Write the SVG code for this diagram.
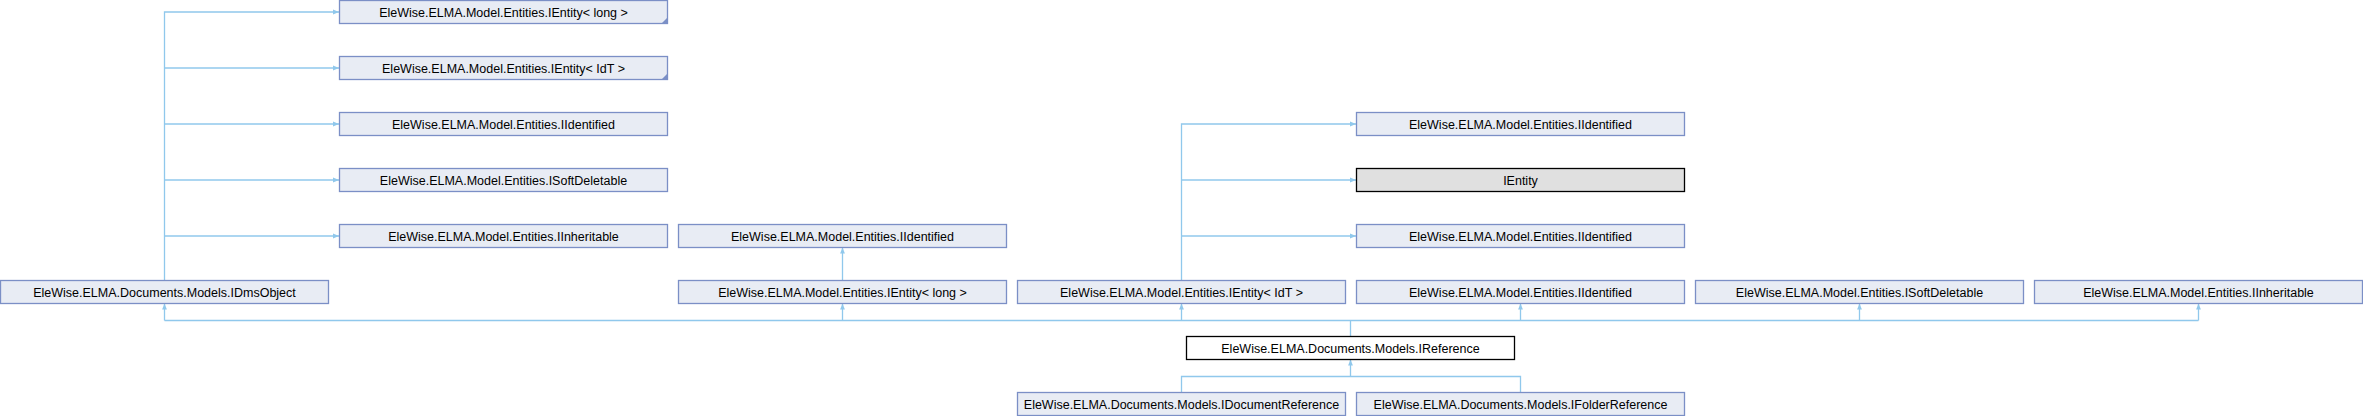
<svg xmlns="http://www.w3.org/2000/svg" width="2363" height="416" viewBox="0 0 2363 416">
<style>
.n rect{fill:#e8ecf4;stroke:#7b8fc6;stroke-width:1.3}
.n.cur rect{fill:#ffffff;stroke:#000000}
.n.und rect{fill:#e0e0e0;stroke:#000000}
.n text{font-family:"Liberation Sans",Arial,sans-serif;font-size:12.5px;fill:#000;text-anchor:middle}
.fold{fill:#7b8fc6}
#edges path{fill:none;stroke:#90c8ec;stroke-width:1.3}
</style>
<defs>
<marker id="ah" viewBox="0 0 6 6" refX="6" refY="3" markerWidth="6" markerHeight="6" markerUnits="userSpaceOnUse" orient="auto">
<path d="M0,0.6 L6,3 L0,5.4 Z" fill="#90c8ec"/>
</marker>
</defs>
<rect width="2363" height="416" fill="#ffffff"/>
<g id="edges">
<path d="M164.5,280.5 V12 H339" marker-end="url(#ah)"/>
<path d="M164.5,68 H339" marker-end="url(#ah)"/>
<path d="M164.5,124 H339" marker-end="url(#ah)"/>
<path d="M164.5,180 H339" marker-end="url(#ah)"/>
<path d="M164.5,236 H339" marker-end="url(#ah)"/>
<path d="M842.5,280.5 V247.5" marker-end="url(#ah)"/>
<path d="M1181.5,280.5 V124 H1356" marker-end="url(#ah)"/>
<path d="M1181.5,180 H1356" marker-end="url(#ah)"/>
<path d="M1181.5,236 H1356" marker-end="url(#ah)"/>
<path d="M1350.5,336.5 V320.5 M164.5,320.5 H2198.5"/>
<path d="M164.5,320.5 V303.5" marker-end="url(#ah)"/>
<path d="M842.5,320.5 V303.5" marker-end="url(#ah)"/>
<path d="M1181.5,320.5 V303.5" marker-end="url(#ah)"/>
<path d="M1520.5,320.5 V303.5" marker-end="url(#ah)"/>
<path d="M1859.5,320.5 V303.5" marker-end="url(#ah)"/>
<path d="M2198.5,320.5 V303.5" marker-end="url(#ah)"/>
<path d="M1181.5,392.5 V376.5 H1520.5 V392.5"/>
<path d="M1350.5,376.5 V359.5" marker-end="url(#ah)"/>
</g>
<g id="n_idmsobject" class="n"><rect x="0.5" y="280.5" width="328" height="23"/><text x="164.5" y="296.5">EleWise.ELMA.Documents.Models.IDmsObject</text></g>
<g id="n_c1_ientity_long" class="n"><rect x="339.5" y="0.5" width="328" height="23"/><path class="fold" d="M667.5,17.5 V23.5 H661.5 Z"/><text x="503.5" y="16.5">EleWise.ELMA.Model.Entities.IEntity&lt; long &gt;</text></g>
<g id="n_c1_ientity_idt" class="n"><rect x="339.5" y="56.5" width="328" height="23"/><path class="fold" d="M667.5,73.5 V79.5 H661.5 Z"/><text x="503.5" y="72.5">EleWise.ELMA.Model.Entities.IEntity&lt; IdT &gt;</text></g>
<g id="n_c1_iidentified" class="n"><rect x="339.5" y="112.5" width="328" height="23"/><text x="503.5" y="128.5">EleWise.ELMA.Model.Entities.IIdentified</text></g>
<g id="n_c1_isoftdeletable" class="n"><rect x="339.5" y="168.5" width="328" height="23"/><text x="503.5" y="184.5">EleWise.ELMA.Model.Entities.ISoftDeletable</text></g>
<g id="n_c1_iinheritable" class="n"><rect x="339.5" y="224.5" width="328" height="23"/><text x="503.5" y="240.5">EleWise.ELMA.Model.Entities.IInheritable</text></g>
<g id="n_c2_iidentified" class="n"><rect x="678.5" y="224.5" width="328" height="23"/><text x="842.5" y="240.5">EleWise.ELMA.Model.Entities.IIdentified</text></g>
<g id="n_c2_ientity_long" class="n"><rect x="678.5" y="280.5" width="328" height="23"/><text x="842.5" y="296.5">EleWise.ELMA.Model.Entities.IEntity&lt; long &gt;</text></g>
<g id="n_c3_ientity_idt" class="n"><rect x="1017.5" y="280.5" width="328" height="23"/><text x="1181.5" y="296.5">EleWise.ELMA.Model.Entities.IEntity&lt; IdT &gt;</text></g>
<g id="n_c4_iidentified_a" class="n"><rect x="1356.5" y="112.5" width="328" height="23"/><text x="1520.5" y="128.5">EleWise.ELMA.Model.Entities.IIdentified</text></g>
<g id="n_c4_ientity" class="n und"><rect x="1356.5" y="168.5" width="328" height="23"/><text x="1520.5" y="184.5">IEntity</text></g>
<g id="n_c4_iidentified_b" class="n"><rect x="1356.5" y="224.5" width="328" height="23"/><text x="1520.5" y="240.5">EleWise.ELMA.Model.Entities.IIdentified</text></g>
<g id="n_c4_iidentified_c" class="n"><rect x="1356.5" y="280.5" width="328" height="23"/><text x="1520.5" y="296.5">EleWise.ELMA.Model.Entities.IIdentified</text></g>
<g id="n_c5_isoftdeletable" class="n"><rect x="1695.5" y="280.5" width="328" height="23"/><text x="1859.5" y="296.5">EleWise.ELMA.Model.Entities.ISoftDeletable</text></g>
<g id="n_c6_iinheritable" class="n"><rect x="2034.5" y="280.5" width="328" height="23"/><text x="2198.5" y="296.5">EleWise.ELMA.Model.Entities.IInheritable</text></g>
<g id="n_ireference" class="n cur"><rect x="1186.5" y="336.5" width="328" height="23"/><text x="1350.5" y="352.5">EleWise.ELMA.Documents.Models.IReference</text></g>
<g id="n_idocumentreference" class="n"><rect x="1017.5" y="392.5" width="328" height="23"/><text x="1181.5" y="408.5">EleWise.ELMA.Documents.Models.IDocumentReference</text></g>
<g id="n_ifolderreference" class="n"><rect x="1356.5" y="392.5" width="328" height="23"/><text x="1520.5" y="408.5">EleWise.ELMA.Documents.Models.IFolderReference</text></g>
</svg>
